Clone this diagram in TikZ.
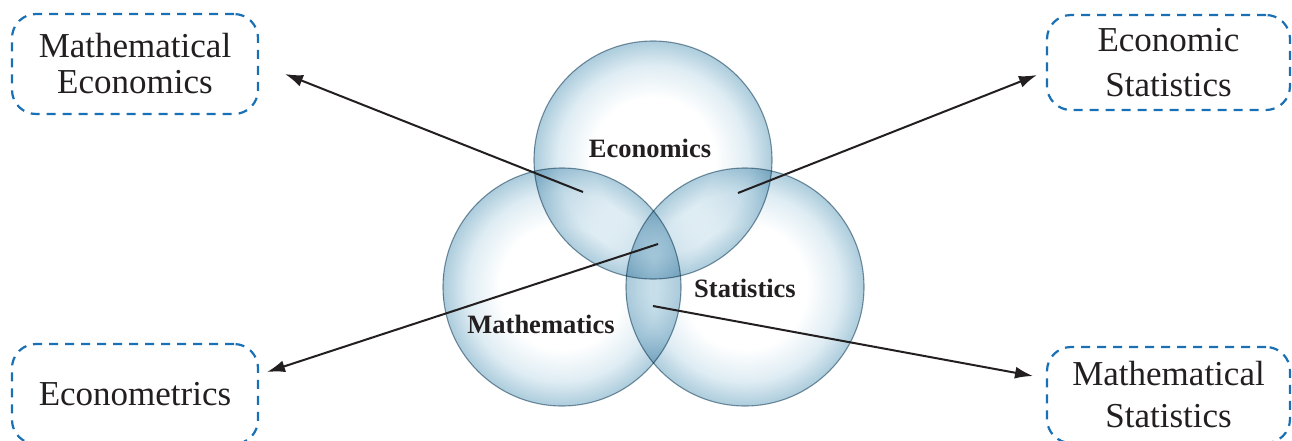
\documentclass[tikz,border=0pt]{standalone}
\usepackage{fontspec}
\setmainfont{Liberation Serif}
\usetikzlibrary{arrows.meta}
\definecolor{boxblue}{RGB}{25,112,180}
\definecolor{bubedge}{RGB}{172,204,220}
\definecolor{bubmid}{RGB}{222,236,243}
\definecolor{bubline}{RGB}{128,152,166}
\definecolor{ink}{RGB}{35,31,32}
\pgfdeclareradialshading{bubble}{\pgfpoint{0bp}{0bp}}{color(0bp)=(white); color(13bp)=(white); color(20bp)=(bubmid); color(25bp)=(bubedge); color(50bp)=(bubedge)}
\begin{document}
\begin{tikzpicture}[x=1pt,y=-1pt,
  labelbox/.style={draw=boxblue, line width=2.2pt, dash pattern=on 9pt off 7pt,
    rounded corners=24pt, minimum width=246pt, minimum height=100pt,
    align=center, text=ink, inner sep=0pt},
  bubstyle/.style={circle, shading=bubble, draw=bubline, line width=1.1pt,
    minimum size=238pt, inner sep=0pt},
  setlabel/.style={font=\bfseries\fontsize{26.5}{29}\selectfont, text=ink, anchor=base},
  link/.style={draw=ink, line width=2pt, -{Latex[length=18pt,width=12pt]}}]
\useasboundingbox (0,0) rectangle (1292,440);
% circles
\begin{scope}[blend group=multiply]
  \node[bubstyle] (econ) at (653,160) {};
  \node[bubstyle] (math) at (562,287) {};
  \node[bubstyle] (stat) at (745,287) {};
\end{scope}
\node[setlabel] (econlab) at (650,157) {Economics};
\node[setlabel] (statlab) at (745,297) {Statistics};
\node[setlabel] (mathlab) at (541,333) {Mathematics};
% boxes
\node[labelbox, font=\fontsize{35}{36}\selectfont] (me) at (135,64) {Mathematical\\Economics};
\node[labelbox, minimum width=243pt, minimum height=95pt, font=\fontsize{35}{45}\selectfont] (es) at (1168.5,62.5) {Economic\\Statistics};
\node[labelbox, font=\fontsize{35}{36}\selectfont] (em) at (135,394) {Econometrics};
\node[labelbox, minimum width=243pt, minimum height=96pt, font=\fontsize{35}{42}\selectfont] (ms) at (1168.5,395) {Mathematical\\Statistics};
% arrows
\coordinate (s1) at (583,192); \coordinate (t1) at (285,74);
\coordinate (s2) at (738,193); \coordinate (t2) at (1037,75);
\coordinate (s3) at (658,244); \coordinate (t3) at (267,372);
\coordinate (s4) at (653,306); \coordinate (t4) at (1033,376);
\draw[link] (s1) -- (t1);
\draw[link] (s2) -- (t2);
\draw[link] (s3) -- (t3);
\draw[link] (s4) -- (t4);
\end{tikzpicture}
\end{document}
